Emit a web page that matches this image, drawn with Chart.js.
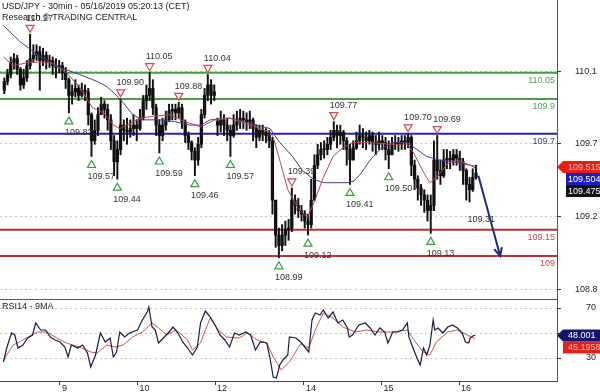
<!DOCTYPE html>
<html>
<head>
<meta charset="utf-8">
<script src="https://cdn.jsdelivr.net/npm/chart.js@4.4.1/dist/chart.umd.min.js"></script>
<style>
  html, body { margin: 0; padding: 0; background: #fff; }
  #wrap { position: relative; width: 600px; height: 392px; overflow: hidden; }
  canvas { position: absolute; left: 0; }
  #price { top: 0; }
  #rsi { top: 297px; }
</style>
</head>
<body>
<div id="wrap">
  <canvas id="price" width="600" height="297"></canvas>
  <canvas id="rsi" width="600" height="95"></canvas>
</div>
<script>
// hourly candles (x = bar index, 2 bars per candle)
const candleCloses = [
  110.00, 110.04, 110.11, 110.13, 110.07, 109.98, 110.02, 110.09, 110.13, 110.15,
  110.17, 110.12, 110.15, 110.11, 110.12, 110.09, 110.08, 110.09, 110.05, 110.01,
  109.92, 109.94, 109.96, 109.92, 109.95, 109.94, 109.81, 109.66, 109.72, 109.81,
  109.87, 109.84, 109.78, 109.66, 109.54, 109.61, 109.75, 109.72, 109.71, 109.73,
  109.75, 109.73, 109.79, 109.89, 109.92, 109.96, 109.85, 109.75, 109.69, 109.75,
  109.78, 109.83, 109.84, 109.82, 109.85, 109.77, 109.69, 109.65, 109.60, 109.55,
  109.64, 109.81, 109.92, 109.98, 109.92, 109.94, 109.75, 109.78, 109.75, 109.72,
  109.69, 109.75, 109.77, 109.79, 109.78, 109.77, 109.78, 109.73, 109.68, 109.72,
  109.71, 109.69, 109.66, 109.32, 109.12, 109.06, 109.12, 109.15, 109.16, 109.32,
  109.29, 109.26, 109.24, 109.20, 109.18, 109.32, 109.52, 109.58, 109.61, 109.61,
  109.64, 109.68, 109.72, 109.69, 109.71, 109.66, 109.61, 109.55, 109.62, 109.66,
  109.69, 109.68, 109.66, 109.69, 109.65, 109.64, 109.66, 109.65, 109.61, 109.58,
  109.64, 109.65, 109.64, 109.66, 109.65, 109.68, 109.52, 109.44, 109.39, 109.35,
  109.32, 109.26, 109.29, 109.55, 109.49, 109.46, 109.55, 109.56, 109.55, 109.58,
  109.56, 109.54, 109.49, 109.41, 109.38, 109.45, 109.475
];
const candleHighs = [
  110.02, 110.07, 110.14, 110.16, 110.15, 110.08, 110.07, 110.12, 110.27, 110.21,
  110.21, 110.20, 110.19, 110.17, 110.15, 110.14, 110.13, 110.12, 110.11, 110.08,
  110.02, 109.98, 110.01, 109.98, 109.99, 109.98, 109.96, 109.82, 109.78, 109.85,
  109.91, 109.89, 109.87, 109.81, 109.69, 109.66, 109.90, 109.78, 109.79, 109.78,
  109.81, 109.78, 109.84, 109.92, 109.98, 110.05, 110.01, 109.87, 109.78, 109.79,
  109.83, 109.87, 109.87, 109.87, 109.88, 109.87, 109.78, 109.71, 109.66, 109.62,
  109.68, 109.84, 109.96, 110.04, 110.01, 109.98, 109.79, 109.83, 109.81, 109.79,
  109.75, 109.81, 109.83, 109.84, 109.83, 109.82, 109.83, 109.79, 109.75, 109.75,
  109.75, 109.73, 109.72, 109.68, 109.32, 109.16, 109.18, 109.20, 109.21, 109.39,
  109.35, 109.33, 109.29, 109.26, 109.24, 109.44, 109.58, 109.64, 109.65, 109.66,
  109.68, 109.72, 109.77, 109.75, 109.75, 109.72, 109.68, 109.64, 109.66, 109.71,
  109.75, 109.73, 109.71, 109.72, 109.71, 109.69, 109.71, 109.69, 109.68, 109.66,
  109.68, 109.69, 109.68, 109.69, 109.69, 109.70, 109.69, 109.55, 109.46, 109.41,
  109.38, 109.35, 109.35, 109.66, 109.69, 109.55, 109.61, 109.61, 109.60, 109.61,
  109.61, 109.60, 109.56, 109.50, 109.45, 109.50, 109.52
];
const candleLows = [
  109.93, 109.98, 110.02, 110.07, 110.04, 109.95, 109.96, 110.00, 110.07, 110.11,
  110.12, 109.95, 110.09, 110.07, 110.08, 110.04, 110.02, 110.05, 110.01, 109.96,
  109.82, 109.87, 109.91, 109.89, 109.91, 109.89, 109.75, 109.57, 109.64, 109.69,
  109.81, 109.79, 109.72, 109.61, 109.46, 109.44, 109.58, 109.66, 109.64, 109.68,
  109.69, 109.66, 109.72, 109.78, 109.84, 109.89, 109.81, 109.69, 109.59, 109.66,
  109.72, 109.77, 109.78, 109.78, 109.79, 109.73, 109.65, 109.61, 109.55, 109.46,
  109.52, 109.62, 109.79, 109.89, 109.87, 109.89, 109.69, 109.71, 109.69, 109.66,
  109.57, 109.68, 109.72, 109.73, 109.73, 109.72, 109.73, 109.66, 109.62, 109.66,
  109.66, 109.65, 109.62, 109.24, 109.05, 108.99, 109.03, 109.06, 109.09, 109.14,
  109.24, 109.22, 109.20, 109.16, 109.12, 109.16, 109.32, 109.50, 109.55, 109.56,
  109.58, 109.61, 109.66, 109.62, 109.64, 109.61, 109.52, 109.41, 109.55, 109.61,
  109.64, 109.62, 109.61, 109.64, 109.60, 109.58, 109.61, 109.61, 109.55, 109.50,
  109.58, 109.61, 109.60, 109.61, 109.61, 109.62, 109.46, 109.38, 109.32, 109.29,
  109.25, 109.20, 109.13, 109.26, 109.44, 109.41, 109.45, 109.50, 109.50, 109.52,
  109.52, 109.49, 109.41, 109.32, 109.31, 109.37, 109.44
];
const firstOpen = 109.95;
const weekendOpenIndex = 66;
const weekendOpen = 109.77;

const maFastIdx = [0, 6, 16, 29, 39, 47, 55, 62, 68, 72, 85, 93, 103, 112, 122, 131, 140, 150, 159, 165, 167, 171, 176, 182, 188, 192, 198, 204, 210, 216, 227, 239, 250, 254, 260, 264, 268, 275, 281, 289, 292];
const maFastVal = [110.14, 110.09, 110.11, 110.11, 110.05, 109.97, 109.85, 109.82, 109.75, 109.73, 109.79, 109.80, 109.81, 109.77, 109.74, 109.78, 109.79, 109.76, 109.73, 109.71, 109.68, 109.55, 109.38, 109.28, 109.22, 109.30, 109.45, 109.57, 109.62, 109.65, 109.65, 109.64, 109.64, 109.59, 109.48, 109.42, 109.45, 109.53, 109.55, 109.52, 109.515];
const maSlowIdx = [0, 10, 23, 35, 47, 58, 64, 70, 74, 80, 86, 97, 106, 115, 122, 128, 140, 153, 165, 171, 179, 185, 192, 198, 213, 217, 221, 227, 233, 241, 250, 256, 262, 270, 278, 289, 292];
const maSlowVal = [110.32, 110.23, 110.14, 110.08, 110.04, 110.00, 109.97, 109.92, 109.88, 109.81, 109.78, 109.78, 109.77, 109.75, 109.75, 109.78, 109.79, 109.76, 109.73, 109.65, 109.57, 109.49, 109.44, 109.42, 109.42, 109.43, 109.47, 109.55, 109.61, 109.65, 109.65, 109.61, 109.57, 109.55, 109.54, 109.52, 109.504];

const levelValues = [110.05, 109.9, 109.7, 109.15, 109];
const levelLabels = ["110.05", "109.9", "109.7", "109.15", "109"];

const swingHighIdx = [16.5, 72.5, 90.5, 108.5, 126.5, 178.5, 204.5, 250.5, 268.5];
const swingHighVal = [110.27, 109.90, 110.05, 109.88, 110.04, 109.39, 109.77, 109.70, 109.69];
const swingLowIdx = [40.5, 54.5, 70.5, 96.5, 118.5, 140.5, 170.5, 188.5, 214.5, 238.5, 264.5];
const swingLowVal = [109.82, 109.57, 109.44, 109.59, 109.46, 109.57, 108.99, 109.12, 109.41, 109.50, 109.13];
const lastLowIdx = 288.5;
const lastLowVal = 109.31;

const arrowFrom = [294, 109.46];
const arrowTo = [307.5, 109.0];

const lastMaFast = 109.515;
const lastMaSlow = 109.504;
const lastClose = 109.475;

const priceTicks = [110.055, 109.645, 109.225, 108.81];
const priceTickLabels = ["110.1", "109.7", "109.2", "108.8"];

const dayTicks = [35, 83, 131, 186, 234, 282];
const dayLabels = ["9", "10", "12", "14", "15", "16"];

const rsiIdx = [0, 2, 5, 7, 9, 12, 15, 18, 20, 23, 26, 29, 32, 35, 38, 40, 42, 46, 49, 52, 54, 57, 60, 63, 66, 68, 70, 72, 75, 78, 83, 86, 89, 90, 92, 94, 96, 99, 102, 105, 108, 111, 114, 117, 120, 122, 125, 128, 131, 134, 137, 140, 143, 146, 150, 153, 156, 159, 163, 165, 167, 169, 171, 173, 176, 177, 181, 184, 187, 189, 191, 193, 196, 198, 201, 204, 207, 210, 213, 214, 216, 220, 224, 227, 230, 233, 236, 238, 241, 244, 247, 250, 251, 254, 256, 258, 260, 262, 264, 266, 267, 269, 272, 275, 278, 281, 284, 286, 288, 289, 291, 292];
const rsiVal = [26.8, 38, 50, 48.4, 38, 40.4, 46, 48.4, 58, 52.4, 52.4, 46.8, 44.4, 42.8, 38.8, 30.8, 40.4, 38, 40.4, 34, 22.8, 32.4, 50, 42.8, 46, 30.8, 34.8, 50.8, 46.8, 50, 52.4, 60.4, 66.8, 70.8, 54.8, 52.4, 42, 46, 50, 54.8, 50, 42.8, 38, 32.4, 38.8, 58, 67.6, 62.8, 56.4, 48.4, 44.4, 38.8, 50, 48.4, 50.8, 48.4, 36.4, 42.8, 42, 30, 14.8, 14, 24.4, 28.4, 32.4, 46.8, 46, 42.8, 38, 34.8, 60.4, 66, 64.4, 68.4, 62, 66.8, 58, 60.4, 54, 46.8, 48.4, 56.4, 58, 54, 48.4, 54, 50.8, 42, 50.8, 50.8, 52.4, 58, 46.8, 36.4, 30, 24.4, 38, 32.4, 40.4, 60.4, 52.4, 54, 50, 54.8, 56.4, 54, 50, 42.8, 42, 46, 48, 48.001];
const rsiMaIdx = [0, 6, 12, 21, 27, 33, 39, 47, 54, 58, 64, 69, 74, 80, 86, 92, 96, 101, 107, 114, 117, 122, 125, 128, 133, 138, 146, 151, 157, 163, 167, 172, 177, 184, 189, 193, 198, 204, 210, 218, 225, 233, 241, 250, 255, 260, 264, 268, 275, 281, 287, 291, 292];
const rsiMaVal = [28.4, 40.4, 44.4, 50.8, 50.8, 46, 42, 38.8, 34.8, 34, 40.4, 38.8, 40.4, 46.8, 50.8, 58, 54, 48.4, 52.4, 44.4, 36.4, 42, 52.4, 62, 52.4, 46.8, 46, 50, 44.4, 42, 30.8, 20.4, 26.8, 41.5, 38, 52.4, 66, 62, 54.8, 50.8, 52.4, 50.8, 50.8, 52.4, 42.8, 34.8, 32.4, 42.8, 50.8, 52.4, 48.4, 46, 45.1958];
const rsiTicks = [70, 50, 30];
const rsiTickLabels = ["70", "", "30"];
const lastRsi = 48.001;
const lastRsiMa = 45.1958;

// pane geometry (bar index / price per pixel)
const xMin = -2.142, xMax = 342.66;
const priceMin = 108.7711, priceMax = 110.4664;
const rsiMin = 11.6, rsiMax = 77.2;

const FONT = '"Liberation Sans", Arial, sans-serif';
const levelColors = ['#4a9d45', '#4a9d45', '#2424b0', '#b83232', '#b83232'];
const levelTextColors = ['#52a052', '#52a052', '#3a3aa8', '#c84a4a', '#c84a4a'];

const candleX = candleCloses.map((c, i) => 2 * i + 0.5);
const opens = candleCloses.map((c, i) => i === 0 ? firstOpen : (i === weekendOpenIndex ? weekendOpen : candleCloses[i - 1]));
const wickData = candleX.map((x, i) => ({
  x, y: [Math.min(candleLows[i], opens[i], candleCloses[i]), Math.max(candleHighs[i], opens[i], candleCloses[i])]
}));
const bodyData = candleX.map((x, i) => ({ x, y: [opens[i], candleCloses[i]] }));
const pts = (xs, ys) => xs.map((x, i) => ({ x, y: ys[i] }));

function triangle(ctx, cx, cy, up, stroke) {
  ctx.beginPath();
  if (up) { ctx.moveTo(cx, cy - 4); ctx.lineTo(cx + 4, cy + 3); ctx.lineTo(cx - 4, cy + 3); }
  else { ctx.moveTo(cx, cy + 4); ctx.lineTo(cx + 4, cy - 3); ctx.lineTo(cx - 4, cy - 3); }
  ctx.closePath();
  ctx.fillStyle = '#fff';
  ctx.fill();
  ctx.lineWidth = 1.2;
  ctx.strokeStyle = stroke;
  ctx.stroke();
}

function valueBox(ctx, text, yc, left, bg, fg, tip) {
  ctx.beginPath();
  if (tip) { ctx.moveTo(tip, yc); ctx.lineTo(left, yc - 6); } else ctx.moveTo(left, yc - 6);
  ctx.lineTo(600, yc - 6);
  ctx.lineTo(600, yc + 6);
  ctx.lineTo(left, yc + 6);
  ctx.closePath();
  ctx.fillStyle = bg;
  ctx.fill();
  ctx.fillStyle = fg;
  ctx.textAlign = 'left';
  ctx.textBaseline = 'middle';
  ctx.fillText(text, 568, yc + 0.5);
}

const priceOverlay = {
  id: 'priceOverlay',
  afterDatasetsDraw(chart) {
    const { ctx, chartArea: a, scales: { x, y } } = chart;
    ctx.save();
    ctx.font = '9px ' + FONT;

    // level labels under each line
    ctx.textAlign = 'right';
    ctx.textBaseline = 'top';
    levelValues.forEach((v, i) => {
      ctx.fillStyle = levelTextColors[i];
      ctx.fillText(levelLabels[i], a.right - 2, y.getPixelForValue(v) + 3);
    });

    // swing highs / lows
    ctx.textBaseline = 'middle';
    ctx.textAlign = 'left';
    swingHighIdx.forEach((ix, i) => {
      const px = x.getPixelForValue(ix), py = y.getPixelForValue(swingHighVal[i]);
      triangle(ctx, px, py - 6, false, '#d24b4b');
      ctx.fillStyle = '#333';
      ctx.fillText(swingHighVal[i].toFixed(2), px - 4, py - 16);
    });
    swingLowIdx.forEach((ix, i) => {
      const px = x.getPixelForValue(ix), py = y.getPixelForValue(swingLowVal[i]);
      triangle(ctx, px, py + 8, true, '#3c9a3c');
      ctx.fillStyle = '#333';
      ctx.fillText(swingLowVal[i].toFixed(2), px - 4, py + 20);
    });
    ctx.fillStyle = '#333';
    ctx.fillText(lastLowVal.toFixed(2), x.getPixelForValue(lastLowIdx) - 2, y.getPixelForValue(lastLowVal) + 18);

    // arrow head
    const x0 = x.getPixelForValue(arrowFrom[0]), y0 = y.getPixelForValue(arrowFrom[1]);
    const x1 = x.getPixelForValue(arrowTo[0]), y1 = y.getPixelForValue(arrowTo[1]);
    const ang = Math.atan2(y1 - y0, x1 - x0);
    ctx.strokeStyle = '#1c2a7e';
    ctx.lineWidth = 2;
    ctx.beginPath();
    ctx.moveTo(x1 - 9 * Math.cos(ang - 0.45), y1 - 9 * Math.sin(ang - 0.45));
    ctx.lineTo(x1, y1);
    ctx.lineTo(x1 - 9 * Math.cos(ang + 0.45), y1 - 9 * Math.sin(ang + 0.45));
    ctx.stroke();

    // title
    ctx.fillStyle = '#222';
    ctx.textBaseline = 'top';
    ctx.fillText('USD/JPY - 30min - 05/16/2019 05:20:13 (CET)', 2, 2);
    ctx.fillText('Research \u00A9 TRADING CENTRAL', 2, 13);

    // last value boxes
    const yr = y.getPixelForValue(lastMaFast) + 1;
    const yb = Math.max(y.getPixelForValue(lastMaSlow), yr + 12);
    const yk = Math.max(y.getPixelForValue(lastClose), yb + 12);
    valueBox(ctx, lastClose.toFixed(3), yk, 566, '#111', '#fff');
    valueBox(ctx, lastMaSlow.toFixed(3), yb, 566, '#1c1cc8', '#fff');
    valueBox(ctx, lastMaFast.toFixed(3), yr, 563, '#e3201c', '#f6b4b0', a.right);

    // axis line down to the lower pane
    ctx.strokeStyle = '#555';
    ctx.lineWidth = 1;
    ctx.beginPath();
    ctx.moveTo(a.right + 0.5, a.bottom);
    ctx.lineTo(a.right + 0.5, chart.height);
    ctx.stroke();
    ctx.restore();
  }
};

const rsiOverlay = {
  id: 'rsiOverlay',
  afterDatasetsDraw(chart) {
    const { ctx, chartArea: a, scales: { y } } = chart;
    ctx.save();
    ctx.strokeStyle = '#555';
    ctx.lineWidth = 1;
    ctx.beginPath();
    ctx.moveTo(0, a.top + 0.5);
    ctx.lineTo(a.right, a.top + 0.5);
    ctx.moveTo(a.right + 0.5, 0);
    ctx.lineTo(a.right + 0.5, a.top);
    ctx.stroke();
    ctx.font = '9px ' + FONT;
    ctx.fillStyle = '#222';
    ctx.textAlign = 'left';
    ctx.textBaseline = 'top';
    ctx.fillText('RSI14 - 9MA', 2, a.top + 3);
    const yn = y.getPixelForValue(lastRsi);
    const yr = Math.max(y.getPixelForValue(lastRsiMa), yn + 12);
    valueBox(ctx, lastRsiMa.toFixed(4), yr, 563, '#e3201c', '#f6b4b0');
    valueBox(ctx, lastRsi.toFixed(3), yn, 563, '#141470', '#fff', a.right);
    ctx.restore();
  }
};

const common = {
  responsive: false,
  animation: false,
  devicePixelRatio: 1,
  events: [],
  plugins: { legend: { display: false }, tooltip: { enabled: false } }
};

new Chart(document.getElementById('price'), {
  type: 'bar',
  data: {
    datasets: [
      { type: 'line', data: [{ x: arrowFrom[0], y: arrowFrom[1] }, { x: arrowTo[0], y: arrowTo[1] }],
        borderColor: '#1c2a7e', borderWidth: 2, pointRadius: 0, order: 0 },
      { type: 'line', data: pts(maFastIdx, maFastVal), borderColor: '#b8484a', borderWidth: 1, pointRadius: 0, order: 1 },
      { type: 'line', data: pts(maSlowIdx, maSlowVal), borderColor: '#3f3f8f', borderWidth: 1, pointRadius: 0, order: 1 },
      { data: bodyData, backgroundColor: '#111', barThickness: 2.6, minBarLength: 1, grouped: false, borderWidth: 0, order: 2 },
      { data: wickData, backgroundColor: '#111', barThickness: 1.3, grouped: false, borderWidth: 0, order: 2 },
      ...levelValues.map((v, i) => ({
        type: 'line', data: [{ x: xMin, y: v }, { x: xMax, y: v }],
        borderColor: levelColors[i], borderWidth: 2, pointRadius: 0, order: 3
      }))
    ]
  },
  options: {
    ...common,
    layout: { padding: { left: 0, right: 0, top: 0, bottom: 1 } },
    scales: {
      x: { type: 'linear', display: false, min: xMin, max: xMax, offset: false },
      y: {
        position: 'right', min: priceMin, max: priceMax,
        afterBuildTicks: s => { s.ticks = priceTicks.map(v => ({ value: v })); },
        afterFit: s => { s.width = 43; s.paddingTop = 0; s.paddingBottom = 0; },
        ticks: { autoSkip: false, padding: 14, color: '#222', font: { family: FONT, size: 9 },
                 callback: (v, i) => priceTickLabels[i] },
        grid: { color: '#c4c4c4', lineWidth: 1, tickLength: 4, tickColor: '#333' },
        border: { display: true, color: '#555', width: 1, dash: [2, 3] }
      }
    }
  },
  plugins: [priceOverlay]
});

new Chart(document.getElementById('rsi'), {
  type: 'line',
  data: {
    datasets: [
      { data: pts(rsiIdx, rsiVal), borderColor: '#1b1b45', borderWidth: 1.2, pointRadius: 0, order: 0 },
      { data: pts(rsiMaIdx, rsiMaVal), borderColor: '#c8554f', borderWidth: 1, pointRadius: 0, order: 1 }
    ]
  },
  options: {
    ...common,
    layout: { padding: { left: 0, right: 0, top: 2, bottom: 0 } },
    scales: {
      x: {
        type: 'linear', min: xMin, max: xMax, offset: false,
        afterBuildTicks: s => { s.ticks = dayTicks.map(v => ({ value: v })); },
        afterFit: s => { s.height = 11; s.paddingLeft = 0; s.paddingRight = 0; },
        ticks: { autoSkip: false, maxRotation: 0, align: 'start', labelOffset: 2, padding: -2,
                 color: '#222', font: { family: FONT, size: 9 }, callback: (v, i) => dayLabels[i] },
        grid: { drawOnChartArea: false, drawTicks: true, tickLength: 4, tickColor: '#333' },
        border: { display: true, color: '#444', width: 1 }
      },
      y: {
        position: 'right', min: rsiMin, max: rsiMax,
        afterBuildTicks: s => { s.ticks = rsiTicks.map(v => ({ value: v })); },
        afterFit: s => { s.width = 43; s.paddingTop = 0; s.paddingBottom = 0; },
        ticks: { autoSkip: false, padding: 25, color: '#222', font: { family: FONT, size: 9 },
                 callback: (v, i) => rsiTickLabels[i] },
        grid: { color: '#c4c4c4', lineWidth: 1, tickLength: 4, tickColor: '#333' },
        border: { display: true, color: '#555', width: 1, dash: [2, 3] }
      }
    }
  },
  plugins: [rsiOverlay]
});
</script>
</body>
</html>
